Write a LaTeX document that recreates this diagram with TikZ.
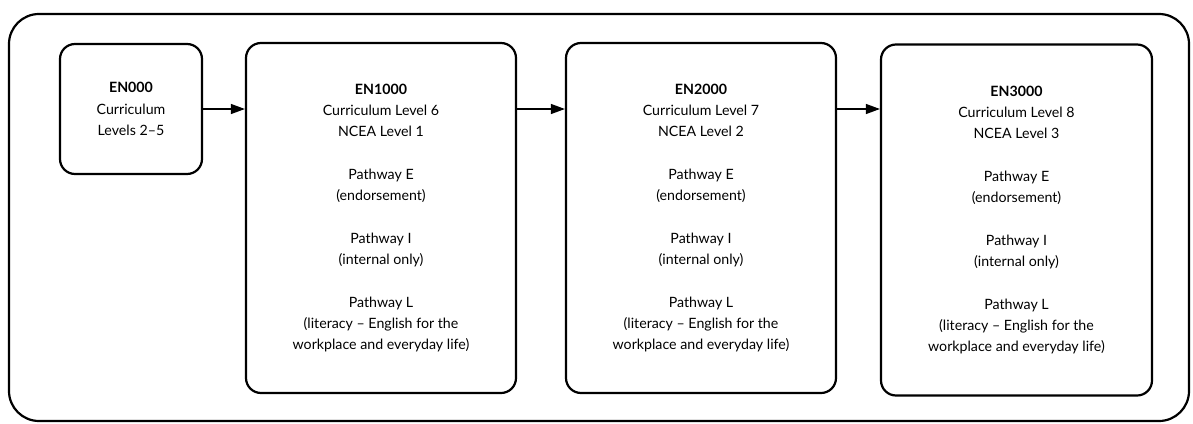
\documentclass[tikz,border=0pt]{standalone}
\usepackage{fontspec}
\setmainfont{Lato}
\usetikzlibrary{arrows.meta}

\begin{document}
\begin{tikzpicture}[x=1pt, y=-1pt,
    course/.style={draw, line width=2.2pt, rounded corners=15pt, align=center,
      inner sep=0pt, font=\fontsize{14.2}{21.3}\selectfont},
    link/.style={line width=1.2pt, -{Triangle[length=14pt, width=10pt]}}]

    \useasboundingbox (0, 0) rectangle (1193, 423);

    % Frame
    \draw[line width=2.2pt, rounded corners=30pt] (9, 14) rectangle (1189, 421);

    % Courses
    \node[course, minimum width=142pt, minimum height=130pt] (EN000) at (131, 109)
    {\textbf{EN000}\\Curriculum\\Levels 2--5};
    \node[course, minimum width=270pt, minimum height=350pt] (EN1000) at (381, 218)
    {\textbf{EN1000}\\Curriculum Level 6\\NCEA Level 1\\[21.3pt]
    Pathway E\\(endorsement)\\[21.3pt]
    Pathway I\\(internal only)\\[21.3pt]
    Pathway L\\(literacy -- English for the\\workplace and everyday life)};
    \node[course, minimum width=270pt, minimum height=350pt] (EN2000) at (701, 218)
    {\textbf{EN2000}\\Curriculum Level 7\\NCEA Level 2\\[21.3pt]
    Pathway E\\(endorsement)\\[21.3pt]
    Pathway I\\(internal only)\\[21.3pt]
    Pathway L\\(literacy -- English for the\\workplace and everyday life)};
    \node[course, minimum width=271pt, minimum height=351pt] (EN3000) at (1016.5, 220)
    {\textbf{EN3000}\\Curriculum Level 8\\NCEA Level 3\\[21.3pt]
    Pathway E\\(endorsement)\\[21.3pt]
    Pathway I\\(internal only)\\[21.3pt]
    Pathway L\\(literacy -- English for the\\workplace and everyday life)};

    \draw[link] (EN000.east) -- (EN000.east -| EN1000.west);
    \draw[link] (EN1000.east |- EN000.east) -- (EN2000.west |- EN000.east);
    \draw[link] (EN2000.east |- EN000.east) -- (EN3000.west |- EN000.east);

\end{tikzpicture}
\end{document}
